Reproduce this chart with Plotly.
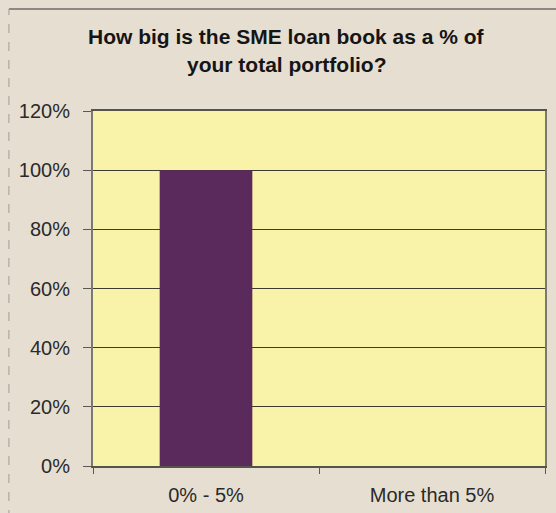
import plotly.graph_objects as go

categories = ["0% - 5%", "More than 5%"]
values = [1.0, 0.0]
y_ticks = [0, 0.2, 0.4, 0.6, 0.8, 1.0, 1.2]
y_tick_labels = ["0%", "20%", "40%", "60%", "80%", "100%", "120%"]
title_lines = ["How big is the SME loan book as a % of", "your total portfolio?"]

fig = go.Figure()
fig.add_trace(go.Bar(
    x=categories, y=values,
    marker=dict(color="#5B2A5C", line=dict(width=0)),
    width=0.41,
))

# plot area in pixels: x 93..545, y 111..466
fig.update_layout(
    width=556, height=513,
    margin=dict(l=93, r=11, t=111, b=47, autoexpand=False),
    paper_bgcolor="#E6DFD1",
    plot_bgcolor="#F8F3A8",
    showlegend=False,
    font=dict(family="Arial, Liberation Sans, sans-serif", color="#2A2A2A", size=20),
)
fig.add_annotation(
    text="<b>" + title_lines[0] + "</b>", xref="paper", yref="paper",
    x=0.427, y=1.21, xanchor="center", yanchor="middle", showarrow=False,
    font=dict(size=21, color="#151515"),
)
fig.add_annotation(
    text="<b>" + title_lines[1] + "</b>", xref="paper", yref="paper",
    x=0.427, y=1.13, xanchor="center", yanchor="middle", showarrow=False,
    font=dict(size=21, color="#151515"),
)
# scanned frame: solid top edge, faint dashed left edge
fig.add_shape(
    type="line", xref="paper", yref="paper",
    x0=-0.186, x1=1.05, y0=1.287, y1=1.287,
    line=dict(color="#6E6C68", width=1.5),
)
fig.add_shape(
    type="line", xref="paper", yref="paper",
    x0=-0.186, x1=-0.186, y0=-0.2, y1=1.287,
    line=dict(color="#A09C96", width=1, dash="dash"),
)
fig.update_yaxes(
    range=[0, 1.2], tickvals=y_ticks, ticktext=y_tick_labels,
    showgrid=True, gridcolor="#3E3C30", gridwidth=1,
    showline=True, linecolor="#7A7870", linewidth=2, mirror=True,
    ticks="outside", ticklen=8, tickcolor="#5A5850",
    ticklabelstandoff=9,
    zeroline=False, automargin=False,
)
fig.update_xaxes(
    showline=True, linecolor="#55534A", linewidth=2, mirror=True,
    ticks="outside", tickson="boundaries", ticklen=6, tickcolor="#5A5850",
    ticklabelstandoff=10,
    showgrid=False, automargin=False,
)

fig.write_html("out.html", config={"displayModeBar": False},
               post_script="document.body.style.margin='0';")
